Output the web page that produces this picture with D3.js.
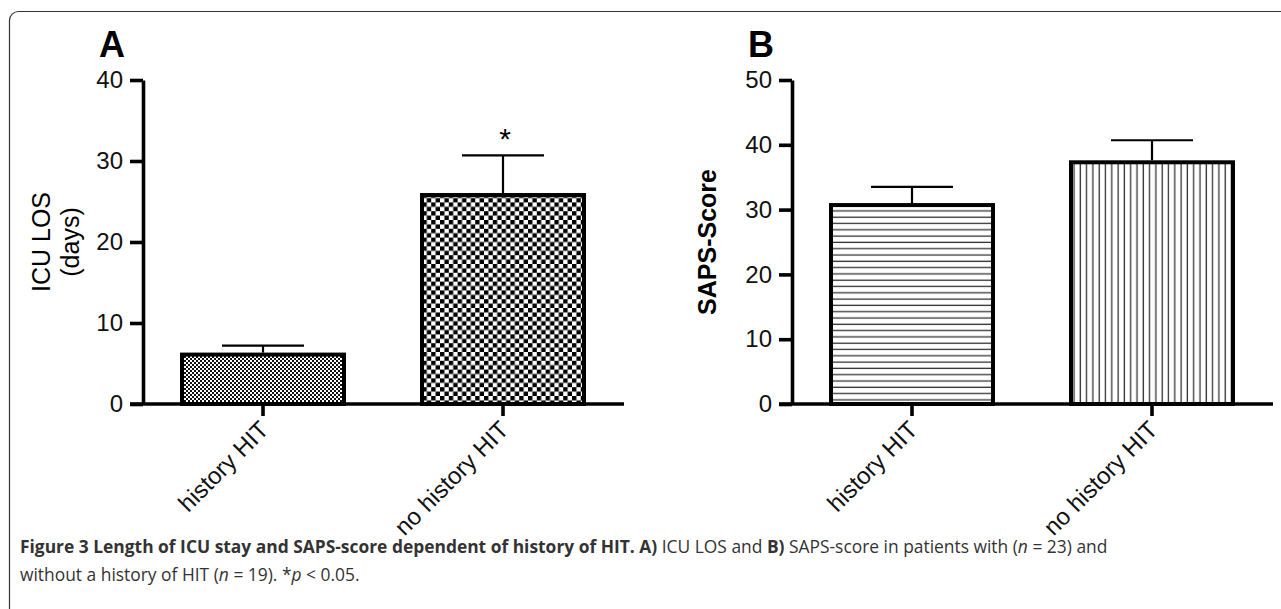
<!DOCTYPE html>
<html>
<head>
<meta charset="utf-8">
<script src="https://cdn.jsdelivr.net/npm/d3@7"></script>
<style>
  body { margin: 0; background: #fff; }
  svg { display: block; }
  .tick text { font-family: "Liberation Sans", Arial, sans-serif; }
</style>
</head>
<body>
<svg id="fig" width="1281" height="609"></svg>
<script>
// values
var categories = ["history HIT", "no history HIT"];
var losMean = [6.1, 25.8];
var losUpper = [7.2, 30.7];
var sapsMean = [30.7, 37.3];
var sapsUpper = [33.5, 40.7];
var losTicks = [0, 10, 20, 30, 40];
var sapsTicks = [0, 10, 20, 30, 40, 50];

var svg = d3.select("#fig");
var defs = svg.append("defs");

// fill patterns
var p1 = defs.append("pattern").attr("id", "fineCheck").attr("patternUnits", "userSpaceOnUse")
    .attr("width", 4).attr("height", 4);
p1.append("rect").attr("width", 4).attr("height", 4).attr("fill", "#fff");
p1.append("rect").attr("width", 2).attr("height", 2).attr("fill", "#111");
p1.append("rect").attr("x", 2).attr("y", 2).attr("width", 2).attr("height", 2).attr("fill", "#111");

var p2 = defs.append("pattern").attr("id", "coarseCheck").attr("patternUnits", "userSpaceOnUse")
    .attr("width", 8.8).attr("height", 8.8);
p2.append("rect").attr("width", 8.8).attr("height", 8.8).attr("fill", "#fff");
p2.append("rect").attr("width", 4.4).attr("height", 4.4).attr("fill", "#000");
p2.append("rect").attr("x", 4.4).attr("y", 4.4).attr("width", 4.4).attr("height", 4.4).attr("fill", "#000");

var p3 = defs.append("pattern").attr("id", "hLines").attr("patternUnits", "userSpaceOnUse")
    .attr("width", 6.3).attr("height", 6.3);
p3.append("rect").attr("width", 6.3).attr("height", 6.3).attr("fill", "#fff");
p3.append("line").attr("x1", 0).attr("x2", 6.3).attr("y1", 3).attr("y2", 3)
    .attr("stroke", "#333").attr("stroke-width", 1.3);

var p4 = defs.append("pattern").attr("id", "vLines").attr("patternUnits", "userSpaceOnUse")
    .attr("width", 6.3).attr("height", 6.3);
p4.append("rect").attr("width", 6.3).attr("height", 6.3).attr("fill", "#fff");
p4.append("line").attr("y1", 0).attr("y2", 6.3).attr("x1", 3).attr("x2", 3)
    .attr("stroke", "#333").attr("stroke-width", 1.3);

// frame
svg.append("rect")
    .attr("x", 9.5).attr("y", 11.5).attr("width", 1300).attr("height", 640)
    .attr("rx", 9).attr("fill", "none").attr("stroke", "#333").attr("stroke-width", 1.2);

var y0 = 404, yTop = 80;

function drawPanel(cfg) {
    var g = svg.append("g");
    var x = d3.scaleBand().domain(categories)
        .range([cfg.left, cfg.left + 480])
        .paddingInner(0.325).paddingOuter(0.1625);
    var y = d3.scaleLinear().domain([0, cfg.max]).range([y0, yTop]);

    // bars
    g.selectAll(".bar").data(cfg.mean).join("rect")
        .attr("class", "bar")
        .attr("x", (d, i) => x(categories[i]))
        .attr("y", d => y(d))
        .attr("width", x.bandwidth())
        .attr("height", d => y0 - y(d))
        .attr("fill", (d, i) => "url(#" + cfg.fills[i] + ")")
        .attr("stroke", "#000").attr("stroke-width", 4);

    // error bars (upper only)
    var cap = 82;
    cfg.upper.forEach((u, i) => {
        var cx = x(categories[i]) + x.bandwidth() / 2;
        g.append("line").attr("x1", cx).attr("x2", cx)
            .attr("y1", y(cfg.mean[i]) - 2).attr("y2", y(u))
            .attr("stroke", "#000").attr("stroke-width", 2.2);
        g.append("line").attr("x1", cx - cap / 2).attr("x2", cx + cap / 2)
            .attr("y1", y(u)).attr("y2", y(u))
            .attr("stroke", "#000").attr("stroke-width", 2.2);
    });

    // y axis
    var ya = g.append("g").attr("transform", `translate(${cfg.left},0)`)
        .call(d3.axisLeft(y).tickValues(cfg.ticks).tickSize(13).tickSizeOuter(0).tickPadding(7));
    ya.select(".domain").attr("stroke-width", 3.6).attr("stroke", "#000");
    ya.selectAll(".tick line").attr("stroke-width", 3.6).attr("stroke", "#000");
    ya.selectAll(".tick text").attr("font-size", 24).attr("fill", "#111");

    // x axis
    var xa = g.append("g").attr("transform", `translate(0,${y0})`)
        .call(d3.axisBottom(x).tickSize(12).tickSizeOuter(0));
    xa.select(".domain").remove();
    xa.append("line").attr("x1", cfg.left - 13).attr("x2", cfg.left + 481)
        .attr("stroke", "#000").attr("stroke-width", 3.6);
    xa.selectAll(".tick line").attr("stroke-width", 3.6).attr("stroke", "#000");
    xa.selectAll(".tick text")
        .attr("font-size", 24).attr("fill", "#111")
        .attr("text-anchor", "end")
        .attr("transform", "translate(-12,8) rotate(-45)")
        .attr("dy", "0.8em").attr("dx", 0).attr("y", 8);

    // panel letter
    svg.append("text").attr("x", cfg.left - 44).attr("y", 57)
        .attr("font-family", "Liberation Sans, Arial, sans-serif")
        .attr("font-size", 36).attr("font-weight", "bold").text(cfg.letter);

    return { x: x, y: y };
}

var a = drawPanel({ left: 143, max: 40, ticks: losTicks, mean: losMean, upper: losUpper,
    fills: ["fineCheck", "coarseCheck"], letter: "A" });
var b = drawPanel({ left: 792, max: 50, ticks: sapsTicks, mean: sapsMean, upper: sapsUpper,
    fills: ["hLines", "vLines"], letter: "B" });

// significance star
svg.append("text")
    .attr("x", a.x(categories[1]) + a.x.bandwidth() / 2 + 2).attr("y", a.y(losUpper[1]) - 6)
    .attr("text-anchor", "middle")
    .attr("font-family", "Liberation Sans, Arial, sans-serif")
    .attr("font-size", 30).text("*");

// y labels
var yl = svg.append("text")
    .attr("transform", "translate(0,242) rotate(-90)")
    .attr("font-family", "Liberation Sans, Arial, sans-serif")
    .attr("font-size", 25).attr("text-anchor", "middle");
yl.append("tspan").attr("x", 0).attr("y", 50).text("ICU LOS");
yl.append("tspan").attr("x", 0).attr("y", 79).text("(days)");

svg.append("text")
    .attr("transform", "translate(716,242) rotate(-90)")
    .attr("font-family", "Liberation Sans, Arial, sans-serif")
    .attr("font-size", 25).attr("font-weight", "bold").attr("text-anchor", "middle")
    .text("SAPS-Score");

// caption
var cap1 = svg.append("text").attr("x", 20).attr("y", 553)
    .attr("font-family", "Open Sans, Noto Sans, sans-serif").attr("font-size", 17.4).attr("fill", "#333");
cap1.append("tspan").attr("font-weight", "bold").text("Figure 3 Length of ICU stay and SAPS-score dependent of history of HIT. A)");
cap1.append("tspan").text(" ICU LOS and ");
cap1.append("tspan").attr("font-weight", "bold").text("B)");
cap1.append("tspan").text(" SAPS-score in patients with (");
cap1.append("tspan").attr("font-style", "italic").text("n");
cap1.append("tspan").text(" = 23) and");

var cap2 = svg.append("text").attr("x", 20).attr("y", 581)
    .attr("font-family", "Open Sans, Noto Sans, sans-serif").attr("font-size", 17.4).attr("fill", "#333");
cap2.append("tspan").text("without a history of HIT (");
cap2.append("tspan").attr("font-style", "italic").text("n");
cap2.append("tspan").text(" = 19). *");
cap2.append("tspan").attr("font-style", "italic").text("p");
cap2.append("tspan").text(" < 0.05.");
</script>
</body>
</html>
